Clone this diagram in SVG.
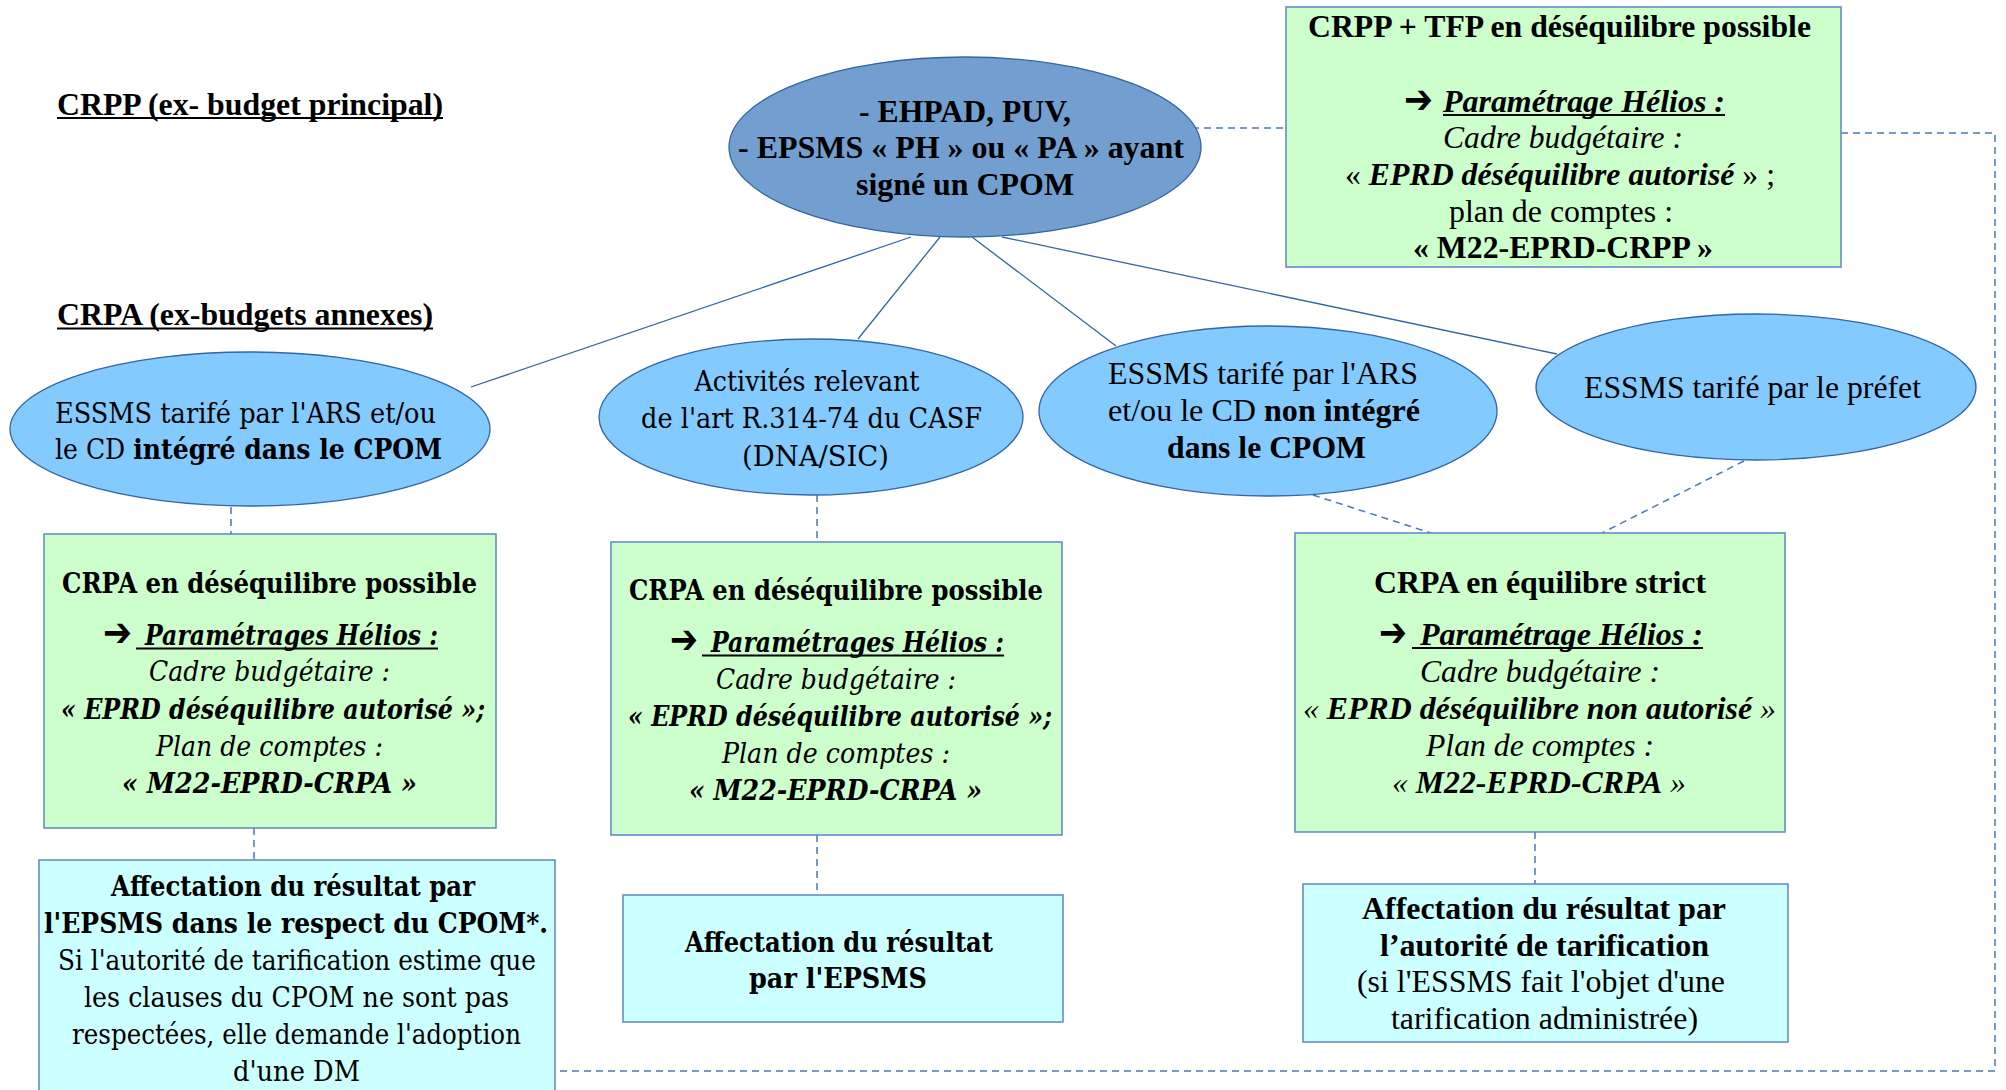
<svg xmlns="http://www.w3.org/2000/svg" width="2006" height="1090" viewBox="0 0 2006 1090">
<style>
text{fill:#000}
.lib{font-family:"Liberation Serif","Times New Roman",serif;font-size:31px}
.dvs{font-family:"DejaVu Serif",serif;font-size:27px}
.arr{font-family:"DejaVu Sans",sans-serif;font-weight:bold;font-size:40px}
.b{font-weight:bold}
.i{font-style:italic}
.ul{stroke:#000;stroke-width:2}
.e1{fill:#729fcf;stroke:#3465a4;stroke-width:1.3}
.e2{fill:#83caff;stroke:#3465a4;stroke-width:1.3}
.g{fill:#ccffcc;stroke:#5f87c4;stroke-width:1.5}
.c{fill:#ccffff;stroke:#5f87c4;stroke-width:1.5}
.sol{stroke:#3465a4;stroke-width:1.3;fill:none}
.dash{stroke:#4a78b8;stroke-width:1.5;fill:none;stroke-dasharray:7 5}
</style>

<g id="headings">
<text class="lib b" x="57" y="115" font-size="32" textLength="386" lengthAdjust="spacingAndGlyphs">CRPP (ex- budget principal)</text>
<line class="ul" x1="57" y1="118" x2="443" y2="118"/>
<text class="lib b" x="57" y="325" font-size="32" textLength="376" lengthAdjust="spacingAndGlyphs">CRPA (ex-budgets annexes)</text>
<line class="ul" x1="57" y1="328.5" x2="433" y2="328.5"/>
</g>

<g id="connectors">
<line class="sol" x1="911" y1="237" x2="471" y2="387"/>
<line class="sol" x1="940" y1="237" x2="858" y2="339"/>
<line class="sol" x1="972" y1="237" x2="1116" y2="346"/>
<line class="sol" x1="1002" y1="237" x2="1557" y2="354"/>
<line class="dash" x1="1192" y1="128" x2="1286" y2="128"/>
<polyline class="dash" points="1841,133 1995,133 1995,1071 555,1071"/>
<line class="dash" x1="231" y1="507" x2="231" y2="534"/>
<line class="dash" x1="254" y1="828" x2="254" y2="860"/>
<line class="dash" x1="817" y1="495" x2="817" y2="542"/>
<line class="dash" x1="817" y1="835" x2="817" y2="895"/>
<line class="dash" x1="1313" y1="495" x2="1431" y2="533"/>
<line class="dash" x1="1744" y1="461" x2="1602" y2="533"/>
<line class="dash" x1="1535" y1="832" x2="1535" y2="884"/>
</g>

<g id="top-ellipse">
<ellipse class="e1" cx="965" cy="147" rx="236" ry="90"/>
<text class="lib b" text-anchor="middle" x="965" y="122" textLength="212" lengthAdjust="spacingAndGlyphs">- EHPAD, PUV,</text>
<text class="lib b" text-anchor="middle" x="961" y="158" textLength="446" lengthAdjust="spacingAndGlyphs">- EPSMS « PH » ou « PA » ayant</text>
<text class="lib b" text-anchor="middle" x="965" y="195" textLength="218" lengthAdjust="spacingAndGlyphs">signé un CPOM</text>
</g>

<g id="crpp-box">
<rect class="g" x="1286" y="7" width="555" height="260"/>
<text class="lib b" text-anchor="middle" x="1559.5" y="37" textLength="503" lengthAdjust="spacingAndGlyphs">CRPP + TFP en déséquilibre possible</text>
<text class="arr" x="1404" y="113" textLength="29" lengthAdjust="spacingAndGlyphs">➔</text>
<text class="lib b i" x="1443" y="112" textLength="282" lengthAdjust="spacingAndGlyphs">Paramétrage Hélios :</text>
<line class="ul" x1="1443" y1="115" x2="1725" y2="115"/>
<text class="lib i" text-anchor="middle" x="1563" y="148" textLength="240" lengthAdjust="spacingAndGlyphs">Cadre budgétaire :</text>
<text class="lib" text-anchor="middle" x="1560" y="185" textLength="430" lengthAdjust="spacingAndGlyphs">« <tspan class="b i">EPRD déséquilibre autorisé</tspan> » ;</text>
<text class="lib" text-anchor="middle" x="1561" y="222" textLength="224" lengthAdjust="spacingAndGlyphs">plan de comptes :</text>
<text class="lib b" text-anchor="middle" x="1563" y="258" textLength="300" lengthAdjust="spacingAndGlyphs">« M22-EPRD-CRPP »</text>
</g>

<g id="ellipse-ars-integre">
<ellipse class="e2" cx="250" cy="429" rx="240" ry="77"/>
<text class="dvs" text-anchor="middle" x="245.5" y="423" textLength="381" lengthAdjust="spacingAndGlyphs">ESSMS tarifé par l'ARS et/ou</text>
<text class="dvs" text-anchor="middle" x="248.5" y="459" textLength="387" lengthAdjust="spacingAndGlyphs">le CD <tspan class="b">intégré dans le CPOM</tspan></text>
</g>

<g id="ellipse-casf">
<ellipse class="e2" cx="811" cy="417" rx="212" ry="78"/>
<text class="dvs" text-anchor="middle" x="807" y="391" textLength="225" lengthAdjust="spacingAndGlyphs">Activités relevant</text>
<text class="dvs" text-anchor="middle" x="811.5" y="428" textLength="341" lengthAdjust="spacingAndGlyphs">de l'art R.314-74 du CASF</text>
<text class="dvs" text-anchor="middle" x="815.5" y="466" textLength="147" lengthAdjust="spacingAndGlyphs">(DNA/SIC)</text>
</g>

<g id="ellipse-ars-non-integre">
<ellipse class="e2" cx="1268" cy="411" rx="229" ry="85"/>
<text class="lib" text-anchor="middle" x="1263" y="384" textLength="310" lengthAdjust="spacingAndGlyphs">ESSMS tarifé par l'ARS</text>
<text class="lib" text-anchor="middle" x="1264" y="421" textLength="312" lengthAdjust="spacingAndGlyphs">et/ou le CD <tspan class="b">non intégré</tspan></text>
<text class="lib b" text-anchor="middle" x="1266.5" y="458" textLength="199" lengthAdjust="spacingAndGlyphs">dans le CPOM</text>
</g>

<g id="ellipse-prefet">
<ellipse class="e2" cx="1756" cy="387" rx="220" ry="73"/>
<text class="lib" text-anchor="middle" x="1752.5" y="398" textLength="337" lengthAdjust="spacingAndGlyphs">ESSMS tarifé par le préfet</text>
</g>

<g id="box-crpa-1">
<rect class="g" x="44" y="534" width="452" height="294"/>
<text class="dvs b" text-anchor="middle" x="269.5" y="593" textLength="415" lengthAdjust="spacingAndGlyphs">CRPA en déséquilibre possible</text>
<text class="arr" x="103" y="646" textLength="29" lengthAdjust="spacingAndGlyphs">➔</text>
<text class="dvs b i" x="145" y="645" textLength="293" lengthAdjust="spacingAndGlyphs">Paramétrages Hélios :</text>
<line class="ul" x1="136" y1="648.5" x2="438" y2="648.5"/>
<text class="dvs i" text-anchor="middle" x="269.5" y="681" textLength="241" lengthAdjust="spacingAndGlyphs">Cadre budgétaire :</text>
<text class="dvs b i" text-anchor="middle" x="273" y="719" textLength="424" lengthAdjust="spacingAndGlyphs">« EPRD déséquilibre autorisé »;</text>
<text class="dvs i" text-anchor="middle" x="269.5" y="756" textLength="227" lengthAdjust="spacingAndGlyphs">Plan de comptes :</text>
<text class="dvs b i" text-anchor="middle" x="269.5" y="793" textLength="295" lengthAdjust="spacingAndGlyphs">« M22-EPRD-CRPA »</text>
</g>

<g id="box-affect-1">
<rect class="c" x="39" y="860" width="516" height="240"/>
<text class="dvs b" text-anchor="middle" x="293" y="896" textLength="364" lengthAdjust="spacingAndGlyphs">Affectation du résultat par</text>
<text class="dvs b" text-anchor="middle" x="296" y="933" textLength="504" lengthAdjust="spacingAndGlyphs">l'EPSMS dans le respect du CPOM*.</text>
<text class="dvs" text-anchor="middle" x="297" y="970" textLength="478" lengthAdjust="spacingAndGlyphs">Si l'autorité de tarification estime que</text>
<text class="dvs" text-anchor="middle" x="296.5" y="1007" textLength="425" lengthAdjust="spacingAndGlyphs">les clauses du CPOM ne sont pas</text>
<text class="dvs" text-anchor="middle" x="296.5" y="1044" textLength="449" lengthAdjust="spacingAndGlyphs">respectées, elle demande l'adoption</text>
<text class="dvs" text-anchor="middle" x="296.5" y="1081" textLength="127" lengthAdjust="spacingAndGlyphs">d'une DM</text>
</g>

<g id="box-crpa-2">
<rect class="g" x="611" y="542" width="451" height="293"/>
<text class="dvs b" text-anchor="middle" x="836" y="600" textLength="414" lengthAdjust="spacingAndGlyphs">CRPA en déséquilibre possible</text>
<text class="arr" x="670" y="653" textLength="28" lengthAdjust="spacingAndGlyphs">➔</text>
<text class="dvs b i" x="711" y="652" textLength="293" lengthAdjust="spacingAndGlyphs">Paramétrages Hélios :</text>
<line class="ul" x1="702" y1="655.5" x2="1004" y2="655.5"/>
<text class="dvs i" text-anchor="middle" x="836" y="689" textLength="240" lengthAdjust="spacingAndGlyphs">Cadre budgétaire :</text>
<text class="dvs b i" text-anchor="middle" x="840" y="726" textLength="424" lengthAdjust="spacingAndGlyphs">« EPRD déséquilibre autorisé »;</text>
<text class="dvs i" text-anchor="middle" x="836" y="763" textLength="228" lengthAdjust="spacingAndGlyphs">Plan de comptes :</text>
<text class="dvs b i" text-anchor="middle" x="835.5" y="800" textLength="293" lengthAdjust="spacingAndGlyphs">« M22-EPRD-CRPA »</text>
</g>

<g id="box-affect-2">
<rect class="c" x="623" y="895" width="440" height="127"/>
<text class="dvs b" text-anchor="middle" x="839" y="952" textLength="308" lengthAdjust="spacingAndGlyphs">Affectation du résultat</text>
<text class="dvs b" text-anchor="middle" x="838" y="988" textLength="178" lengthAdjust="spacingAndGlyphs">par l'EPSMS</text>
</g>

<g id="box-crpa-3">
<rect class="g" x="1295" y="533" width="490" height="299"/>
<text class="lib b" text-anchor="middle" x="1540" y="593" textLength="332" lengthAdjust="spacingAndGlyphs">CRPA en équilibre strict</text>
<text class="arr" x="1379" y="646" textLength="28" lengthAdjust="spacingAndGlyphs">➔</text>
<text class="lib b i" x="1420" y="645" textLength="283" lengthAdjust="spacingAndGlyphs">Paramétrage Hélios :</text>
<line class="ul" x1="1412" y1="648" x2="1703" y2="648"/>
<text class="lib i" text-anchor="middle" x="1540" y="682" textLength="240" lengthAdjust="spacingAndGlyphs">Cadre budgétaire :</text>
<text class="lib i" text-anchor="middle" x="1539.5" y="719" textLength="473" lengthAdjust="spacingAndGlyphs">« <tspan class="b">EPRD déséquilibre non autorisé</tspan> »</text>
<text class="lib i" text-anchor="middle" x="1540" y="756" textLength="228" lengthAdjust="spacingAndGlyphs">Plan de comptes :</text>
<text class="lib i" text-anchor="middle" x="1539" y="793" textLength="294" lengthAdjust="spacingAndGlyphs">« <tspan class="b">M22-EPRD-CRPA</tspan> »</text>
</g>

<g id="box-affect-3">
<rect class="c" x="1303" y="884" width="485" height="158"/>
<text class="lib b" text-anchor="middle" x="1544" y="919" textLength="364" lengthAdjust="spacingAndGlyphs">Affectation du résultat par</text>
<text class="lib b" text-anchor="middle" x="1544.5" y="956" textLength="329" lengthAdjust="spacingAndGlyphs">l’autorité de tarification</text>
<text class="lib" text-anchor="middle" x="1541" y="992" textLength="368" lengthAdjust="spacingAndGlyphs">(si l'ESSMS fait l'objet d'une</text>
<text class="lib" text-anchor="middle" x="1544.5" y="1029" textLength="307" lengthAdjust="spacingAndGlyphs">tarification administrée)</text>
</g>
</svg>
